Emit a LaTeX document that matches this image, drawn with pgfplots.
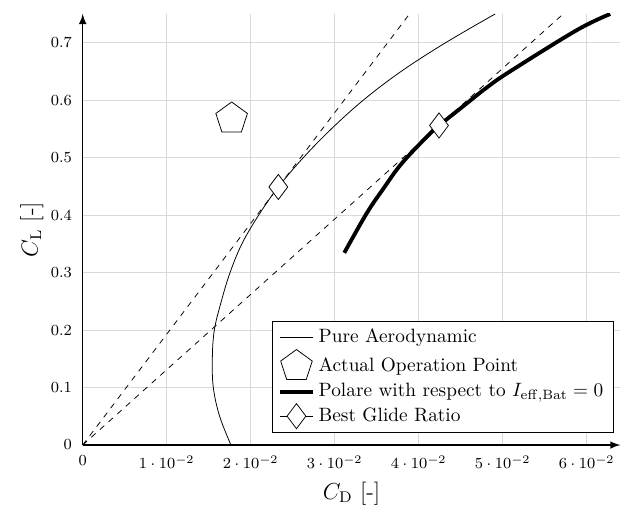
\documentclass[border=0pt]{standalone}
\usepackage{pgfplots}
\pgfplotsset{compat=1.18}
\begin{document}
\begin{tikzpicture}
\begin{axis}[
  scale only axis,
  width=278.5pt, height=223.3pt,
  axis lines=left,
  axis line style={thick, -latex},
  xmin=0, xmax=0.064,
  ymin=0, ymax=0.75,
  xtick={0,0.01,0.02,0.03,0.04,0.05,0.06},
  ytick={0,0.1,0.2,0.3,0.4,0.5,0.6,0.7},
  scaled x ticks=false,
  scaled y ticks=false,
  grid=major,
  major grid style={gray!30},
  tick style={draw=none},
  ticklabel style={font=\footnotesize},
  xlabel={$C_\mathrm{D}$ [-]},
  ylabel={$C_\mathrm{L}$ [-]},
  label style={font=\large},
  ylabel style={yshift=-3pt},
  legend style={at={(0.987,0.028)}, anchor=south east, cells={anchor=west}, font=\normalsize},
]
\addplot[thin, smooth, tension=0.6] coordinates {
(0.01765,0) (0.0163,0.05) (0.01555,0.1) (0.01543,0.15) (0.01567,0.2)
(0.0165,0.25) (0.01754,0.3) (0.01895,0.35) (0.02095,0.4) (0.02329,0.449)
(0.02626,0.5) (0.0296,0.55) (0.0334,0.6) (0.0379,0.65) (0.0432,0.7) (0.0491,0.75)
};
\addlegendentry{Pure Aerodynamic}
\addplot[only marks, mark=pentagon*, mark size=8.6pt, mark options={thin, draw=black, fill=white}] coordinates {(0.01773,0.568)};
\addlegendentry{Actual Operation Point}
\addplot[line width=2pt, smooth, tension=0.6] coordinates {
(0.03114,0.3344) (0.0338,0.403) (0.03579,0.446) (0.03798,0.490) (0.04115,0.539) (0.04242,0.556)
(0.04531,0.5896) (0.0481,0.622) (0.05087,0.650) (0.0588,0.7217) (0.0628,0.75)
};
\addlegendentry{Polare with respect to $I_\mathrm{eff,Bat}=0$}
\addplot[thin, dashed, mark=diamond*, mark size=6.5pt, mark indices={2}, mark options={solid, draw=black, fill=white}, legend image post style={solid}] coordinates {
(0,0) (0.02329,0.449) (0.0389,0.75)
};
\addlegendentry{Best Glide Ratio}
\addplot[thin, dashed, mark=diamond*, mark size=6.5pt, mark indices={2}, mark options={solid, draw=black, fill=white}, forget plot] coordinates {
(0,0) (0.04242,0.556) (0.0572,0.75)
};
\end{axis}
\path ([shift={(-42.85pt,-29pt)}]current axis.south west) rectangle ([shift={(1.92pt,7.25pt)}]current axis.north east);
\end{tikzpicture}
\end{document}
